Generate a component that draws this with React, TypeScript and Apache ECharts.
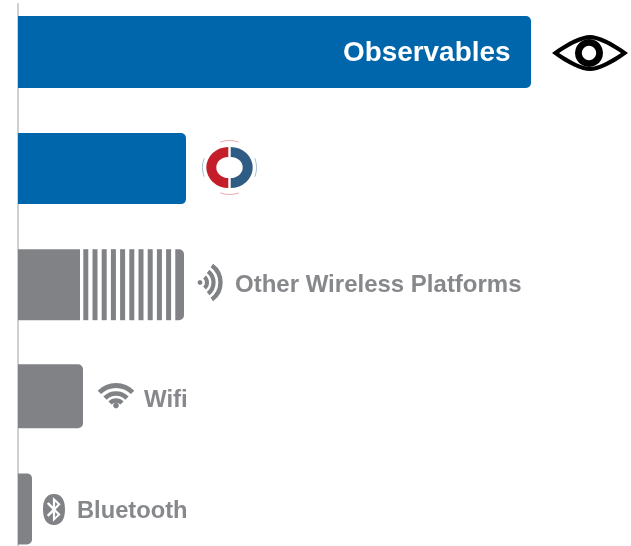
import React, { useEffect, useRef } from "react";
import * as echarts from "echarts";

const categories = ["Observables", "Cooperation", "Other Wireless Platforms", "Wifi", "Bluetooth"];
const solidValues = [513, 168, 62, 65, 14];
const stripedValues = [0, 0, 104, 0, 0];
const barLabels = ["Observables", "", "Other Wireless Platforms", "Wifi", "Bluetooth"];

const stripeCount = 11;
const rowNudge = [0, 2.5, 4.5, 2, 0.5];
const rowHeight = [72, 71, 71, 64, 71];
const labelGap = [-188, 0, 51, 61, 45];
const labelSize = [27.9, 24, 24, 24, 23.7];
const labelNudge = [-1, 0, -1.5, 2, 1.5];
const BLUE = "#0066AC";
const GREY = "#808285";
const LABEL_GREY = "#86888B";
const FONT = "'Liberation Sans', Arial, sans-serif";

const eyePath = "M0 24 C16 8 30 0 38 0 C46 0 60 8 76 24 C60 40 46 48 38 48 C30 48 16 40 0 24 Z M7 24 C21 36.5 31 42.5 38 42.5 C45 42.5 55 36.5 69 24 C55 11.5 45 5.5 38 5.5 C31 5.5 21 11.5 7 24 Z";
const btPath = "M10 0 C3 0 0 6 0 15 C0 24 3 30 10 30 C17 30 20 24 20 15 C20 6 17 0 10 0 Z M9 3 L16 10 L11.5 15 L16 20 L9 27 L9 18 L5 22 L3.5 20.5 L8.5 15 L3.5 9.5 L5 8 L9 12 Z M11 7.5 L11 12.5 L13.2 10 Z M11 17.5 L11 22.5 L13.2 20 Z";
const redHalf = "M-1.2 -20.5 A22 20.5 0 0 0 -1.2 20.5 L-1.2 10.5 A12 10.5 0 0 1 -1.2 -10.5 Z";
const blueHalf = "M1.2 -20.5 A22 20.5 0 0 1 1.2 20.5 L1.2 10.5 A12 10.5 0 0 0 1.2 -10.5 Z";

export default function App() {
  const ref = useRef<HTMLDivElement>(null);
  useEffect(() => {
    const g: any = echarts.graphic;
    g.registerShape("eyeOutline", g.extendPath(eyePath, {}));
    g.registerShape("btIcon", g.extendPath(btPath, {}));
    g.registerShape("logoRed", g.extendPath(redHalf, {}));
    g.registerShape("logoBlue", g.extendPath(blueHalf, {}));
    const chart = echarts.init(ref.current!, undefined, { renderer: "svg" });
    const rad = Math.PI / 180;
    const arc = (cx: number, cy: number, r: number, a0: number, a1: number, w: number, color: string) => ({
      type: "arc",
      shape: { cx, cy, r, startAngle: a0 * rad, endAngle: a1 * rad, clockwise: true },
      style: { stroke: color, lineWidth: w, fill: "none" },
      silent: true,
    });
    chart.setOption({
      animation: false,
      grid: { left: 18, right: 0, top: 4, bottom: 0 },
      xAxis: { type: "value", min: 0, max: 613, show: false },
      yAxis: {
        type: "value", inverse: true, min: -0.4207, max: 4.3296,
        axisLine: { show: true, onZero: false, lineStyle: { color: "#D0D0D0", width: 2 } },
        axisTick: { show: false }, axisLabel: { show: false }, splitLine: { show: false },
      },
      series: [
        {
          type: "custom", coordinateSystem: "cartesian2d", clip: false, z: 3, name: "share",
          encode: { x: 1, y: 0 },
          data: categories.map((_c, i) => [i, solidValues[i] + stripedValues[i], solidValues[i]]),
          renderItem(_p: any, api: any) {
            const idx = api.value(0) as number;
            const total = api.value(1) as number;
            const solid = api.value(2) as number;
            const origin = api.coord([0, idx]);
            const solidEnd = api.coord([solid, idx])[0];
            const end = api.coord([total, idx])[0];
            const cy = origin[1] + rowNudge[idx];
            const h = rowHeight[idx];
            const y = cy - h / 2;
            const fill = idx < 2 ? BLUE : GREY;
            const children: any[] = [];
            if (total === solid) {
              children.push({
                type: "rect",
                shape: { x: origin[0], y, width: end - origin[0], height: h, r: [0, 5, 5, 0] },
                style: { fill },
              });
            } else {
              children.push({
                type: "rect",
                shape: { x: origin[0], y, width: solidEnd - origin[0], height: h },
                style: { fill },
              });
              const gap = 4.2;
              const start = solidEnd + 3.3;
              const step = 9.2;
              for (let k = 0; k < stripeCount; k++) {
                const last = k === stripeCount - 1;
                const x = start + k * step;
                children.push({
                  type: "rect",
                  shape: { x, y, width: last ? end - x : step - gap, height: h, r: last ? [0, 5, 5, 0] : 0 },
                  style: { fill },
                });
              }
            }
            if (barLabels[idx]) {
              children.push({
                type: "text",
                x: end + labelGap[idx],
                y: cy + labelNudge[idx],
                style: {
                  text: barLabels[idx],
                  fill: idx === 0 ? "#FFFFFF" : LABEL_GREY,
                  font: `bold ${labelSize[idx]}px ${FONT}`,
                  textAlign: "left",
                  textVerticalAlign: "middle",
                },
              });
            }
            return { type: "group", children };
          },
        },
      ],
      graphic: [
        { type: "eyeOutline", x: 552, y: 35, scaleX: 1, scaleY: 0.75, style: { fill: "#000000" }, silent: true },
        { type: "ring", shape: { cx: 589, cy: 53, r: 14, r0: 7.2 }, style: { fill: "#000000" }, silent: true },
        { type: "logoRed", x: 229.5, y: 167.5, style: { fill: "#C41E2A" }, silent: true },
        { type: "logoBlue", x: 229.5, y: 167.5, style: { fill: "#2F5C85" }, silent: true },
        arc(229.5, 167.5, 27, 250, 290, 1, "#E9A9AE"),
        arc(229.5, 167.5, 27, 70, 110, 1, "#E9A9AE"),
        arc(229.5, 167.5, 27, 160, 200, 1, "#A9BDD0"),
        arc(229.5, 167.5, 27, -20, 20, 1, "#A9BDD0"),
        { type: "circle", shape: { cx: 200, cy: 282.5, r: 2.4 }, style: { fill: GREY }, silent: true },
        arc(199.5, 282.5, 7.5, -48, 48, 4, GREY),
        arc(199.5, 282.5, 14, -52, 52, 4.2, GREY),
        arc(199.5, 282.5, 21, -54, 54, 4.4, GREY),
        { type: "circle", shape: { cx: 116, cy: 405.5, r: 2.8 }, style: { fill: GREY }, silent: true },
        arc(116, 409, 8.5, 225, 315, 4.4, GREY),
        arc(116, 409, 15.5, 225, 315, 4.6, GREY),
        arc(116, 409, 23.5, 225, 315, 4.8, GREY),
        { type: "btIcon", x: 43, y: 494, scaleX: 1.1, scaleY: 1.03, style: { fill: GREY, fillRule: "evenodd" }, silent: true },
      ],
    });
    return () => chart.dispose();
  }, []);
  return <div ref={ref} style={{ width: 631, height: 546, position: "fixed", left: 0, top: 0 }} />;
}
